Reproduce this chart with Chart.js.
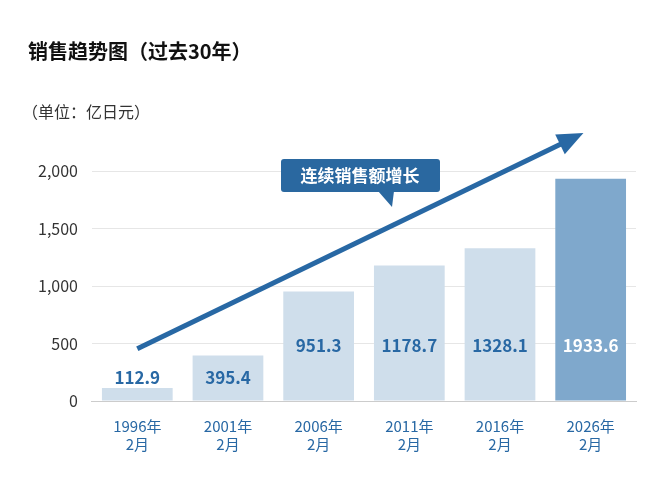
<!DOCTYPE html>
<html><head><meta charset="utf-8">
<script src="https://cdn.jsdelivr.net/npm/chart.js@4/dist/chart.umd.min.js"></script>
<style>body{margin:0;background:#fff}#wrap{width:670px;height:500px}</style>
</head><body><div id="wrap"><canvas id="c"></canvas></div>
<script>
const years = [['1996年','2月'],['2001年','2月'],['2006年','2月'],['2011年','2月'],['2016年','2月'],['2026年','2月']]
const sales = [112.9, 395.4, 951.3, 1178.7, 1328.1, 1933.6]
const yTicks = [0, 500, 1000, 1500, 2000]
const FONT = '"Noto Sans CJK SC", "Noto Sans", sans-serif'
const BLUE = '#2868a4'

const extras = {
  id: 'extras',
  afterDatasetsDraw(chart) {
    const c = chart.ctx, x = chart.scales.x, y = chart.scales.y
    c.save()
    c.fillStyle = '#111'
    c.font = 'bold 20px ' + FONT
    c.textBaseline = 'middle'
    c.fillText('销售趋势图（过去30年）', 28, 51)
    c.font = '16px ' + FONT
    c.fillStyle = '#333'
    c.fillText('（单位：亿日元）', 22, 112)
    // value labels
    const meta = chart.getDatasetMeta(0)
    c.font = 'bold 17px ' + FONT
    c.textAlign = 'center'
    meta.data.forEach((b, i) => {
      c.fillStyle = i === sales.length - 1 ? '#fff' : BLUE
      c.fillText(sales[i].toFixed(1), b.x, i < 2 ? 378 : 346)
    })
    // arrow
    const x0 = x.getPixelForValue(0), y0 = y.getPixelForValue(455)
    const x1 = x.getPixelForValue(4.92), y1 = y.getPixelForValue(2330)
    const ang = Math.atan2(y1 - y0, x1 - x0)
    c.strokeStyle = BLUE; c.fillStyle = BLUE; c.lineWidth = 5
    c.beginPath(); c.moveTo(x0, y0)
    c.lineTo(x1 - 18 * Math.cos(ang), y1 - 18 * Math.sin(ang)); c.stroke()
    c.beginPath(); c.moveTo(x1, y1)
    c.lineTo(x1 - 26 * Math.cos(ang) + 11 * Math.sin(ang), y1 - 26 * Math.sin(ang) - 11 * Math.cos(ang))
    c.lineTo(x1 - 26 * Math.cos(ang) - 11 * Math.sin(ang), y1 - 26 * Math.sin(ang) + 11 * Math.cos(ang))
    c.closePath(); c.fill()
    // callout
    c.fillStyle = '#2a68a0'
    c.beginPath()
    c.roundRect(281, 159, 159, 33, 3)
    c.fill()
    c.beginPath(); c.moveTo(378, 191); c.lineTo(394, 191); c.lineTo(392, 207); c.closePath(); c.fill()
    c.fillStyle = '#fff'
    c.font = 'bold 17px ' + FONT
    c.fillText('连续销售额增长', 360, 176)
    c.restore()
  }
}

new Chart(document.getElementById('c'), {
  type: 'bar',
  data: {
    labels: years,
    datasets: [{
      data: sales,
      backgroundColor: sales.map((v, i) => i === sales.length - 1 ? '#7fa8cc' : '#cfdeeb'),
      categoryPercentage: 0.78,
      barPercentage: 1
    }]
  },
  options: {
    responsive: true, maintainAspectRatio: false, animation: false,
    layout: { padding: { top: 171, left: 24, right: 34, bottom: 39 } },
    plugins: { legend: { display: false }, tooltip: { enabled: false } },
    scales: {
      x: {
        grid: { display: false },
        border: { color: '#ccc' },
        ticks: { color: BLUE, font: { family: FONT, size: 15 }, padding: 8 }
      },
      y: {
        min: 0, max: 2000,
        afterBuildTicks: s => { s.ticks = yTicks.map(v => ({ value: v })) },
        grid: { color: '#e6e6e6', drawTicks: false },
        border: { display: false },
        ticks: { color: '#333', font: { family: FONT, size: 16 }, padding: 14,
          callback: v => v.toLocaleString('en-US') }
      }
    }
  },
  plugins: [extras]
})
</script></body></html>
